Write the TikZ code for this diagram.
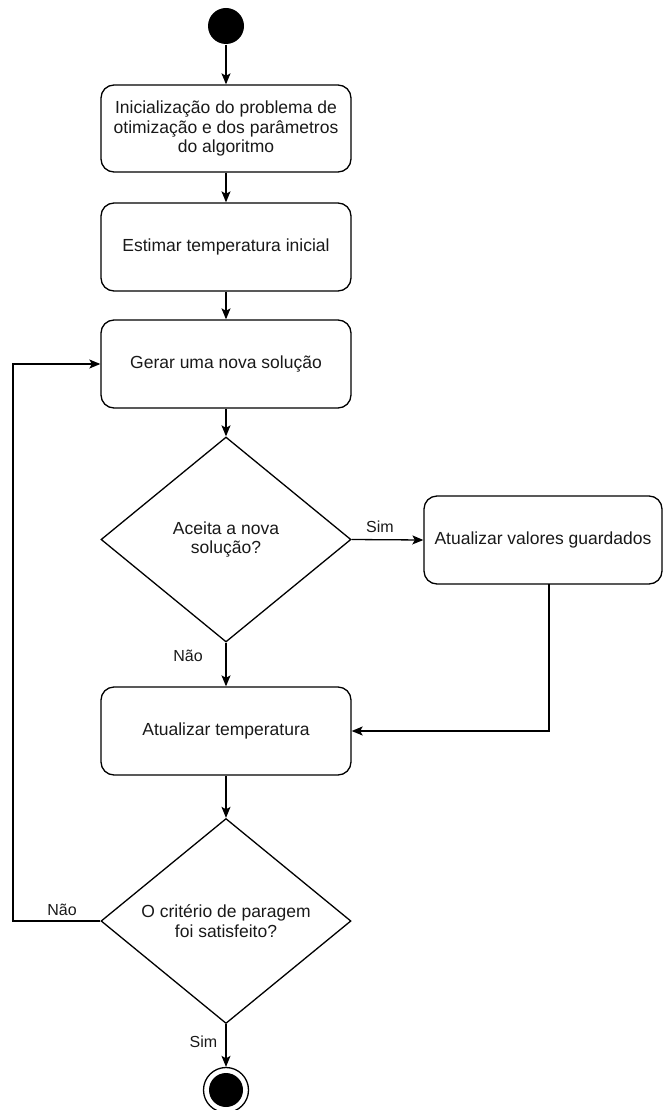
\documentclass[tikz,border=0pt]{standalone}
\usepackage{fontspec}
\setmainfont{Liberation Sans}
\usetikzlibrary{shapes.geometric,arrows.meta}
\begin{document}
\begin{tikzpicture}[x=1pt,y=-1pt,
  line width=1.3pt,
  every node/.style={font=\fontsize{17.5}{19.5}\selectfont, text=black!90},
  flowbox/.style={draw, rounded corners=13pt, minimum width=250pt, minimum height=88pt,
                  align=center, inner sep=0pt},
  decision/.style={draw, diamond, minimum width=250pt, minimum height=205pt,
                   align=center, inner sep=0pt},
  flow/.style={-{Stealth[length=11pt,width=9pt,inset=2.5pt]}},
  edgelabel/.style={font=\fontsize{16}{18}\selectfont, inner sep=0pt}]

\useasboundingbox (0,0) rectangle (666,1110);

% activity nodes
\node[circle, fill=black, minimum size=36pt, inner sep=0pt] (start) at (226,26) {};
\node[flowbox, minimum height=87pt] (init) at (226,128.5)
  {Inicialização do problema de\\otimização e dos parâmetros\\do algoritmo};
\node[flowbox] (temp0) at (226,247) {Estimar temperatura inicial};
\node[flowbox] (gen) at (226,364) {Gerar uma nova solução};
\node[decision] (accept) at (226,539.5) {Aceita a nova\\solução?};
\node[flowbox, minimum width=238pt] (store) at (543,540) {Atualizar valores guardados};
\node[flowbox] (cool) at (226,731) {Atualizar temperatura};
\node[decision] (stop) at (226,921) {O critério de paragem\\foi satisfeito?};
\node[circle, draw, minimum size=45pt, inner sep=0pt] (finish) at (226,1090) {};
\node[circle, fill=black, minimum size=34pt, inner sep=0pt] (finishdot) at (finish.center) {};

% helper points for the bent connectors
\coordinate (storeout) at (549,584);
\coordinate (loopbottom) at (13,921);
\coordinate (looptop) at (13,364);

% connectors
\draw[flow] (start) -- (init);
\draw[flow] (init) -- (temp0);
\draw[flow] (temp0) -- (gen);
\draw[flow] (gen) -- (accept);
\draw[flow] (accept.east) -- (store.west);
\draw[flow] (accept.south) -- (cool.north);
\draw[flow] (storeout) |- (cool.east);
\draw[flow] (cool) -- (stop);
\draw[flow] (stop.west) -- (loopbottom) -- (looptop) -- (gen.west);
\draw[flow] (stop.south) -- (finish.north);

% connector labels
\node[edgelabel] (simA) at (380,527) {Sim};
\node[edgelabel] (naoA) at (188,656) {Não};
\node[edgelabel] (naoB) at (62,910) {Não};
\node[edgelabel] (simB) at (203.5,1042) {Sim};
\end{tikzpicture}
\end{document}
